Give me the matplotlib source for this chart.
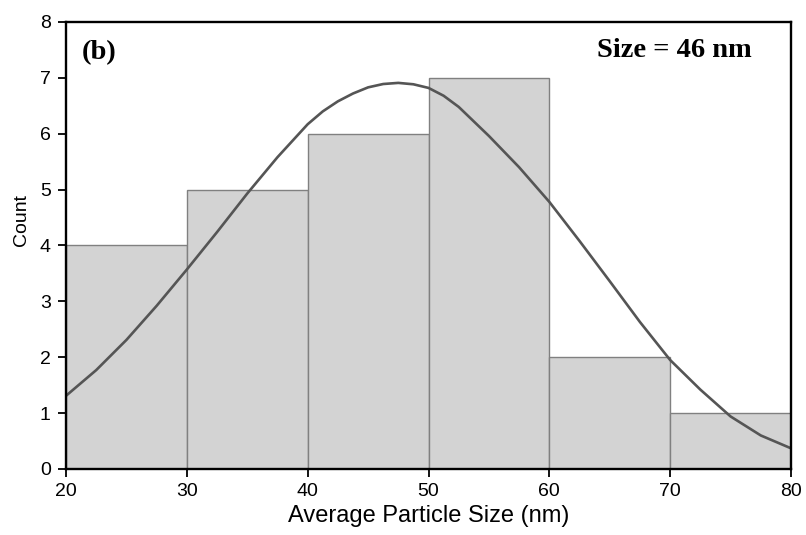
import matplotlib
matplotlib.use('Agg')
import matplotlib.pyplot as plt

# histogram bins (nm) and counts
bin_edges = [20, 30, 40, 50, 60, 70, 80]
counts = [4, 5, 6, 7, 2, 1]

# fitted distribution curve
curve_x = [20, 22.5, 25, 27.5, 30, 32.5, 35, 37.5, 40, 41.25, 42.5, 43.75, 45,
           46.25, 47.5, 48.75, 50, 51.25, 52.5, 55, 57.5, 60, 62.5, 65, 67.5,
           70, 72.5, 75, 77.5, 80]
curve_y = [1.31, 1.77, 2.31, 2.92, 3.57, 4.24, 4.93, 5.58, 6.17, 6.40, 6.58, 6.72, 6.83,
           6.89, 6.91, 6.885, 6.82, 6.68, 6.48, 5.96, 5.40, 4.78, 4.08, 3.36, 2.63,
           1.95, 1.42, 0.94, 0.60, 0.37]

plt.rcParams['font.family'] = ['Liberation Sans', 'DejaVu Sans']

fig = plt.figure(figsize=(8.06, 5.35), dpi=100)
ax = fig.add_axes([0.0819, 0.1234, 0.8995, 0.8355])

widths = [bin_edges[i + 1] - bin_edges[i] for i in range(len(counts))]
ax.bar(bin_edges[:-1], counts, width=widths, align='edge',
       color='#d3d3d3', edgecolor='#808080', linewidth=1.0, zorder=2)
ax.plot(curve_x, curve_y, color='#555555', lw=1.9, zorder=3,
        solid_joinstyle='round', solid_capstyle='round')

ax.set_xlim(20, 80)
ax.set_ylim(0, 8)
ax.set_xticks(range(20, 81, 10))
ax.set_yticks(range(0, 9))
ax.tick_params(direction='out', length=6, width=1.3, labelsize=14)
ax.tick_params(axis='x', pad=4)
ax.tick_params(axis='y', pad=5)
for s in ax.spines.values():
    s.set_linewidth(1.7)
    s.set_zorder(4)

ax.set_xlabel('Average Particle Size (nm)', fontsize=17, labelpad=4)
ax.set_ylabel('Count', fontsize=14, labelpad=6)
ax.yaxis.set_label_coords(-0.05, 0.557)

ax.text(0.022, 0.932, '(b)', transform=ax.transAxes, fontsize=20.5,
        fontweight='bold', family='Liberation Serif', va='center', ha='left')
ax.text(0.946, 0.936, 'Size = 46 nm', transform=ax.transAxes, fontsize=20.5,
        fontweight='bold', family='Liberation Serif', va='center', ha='right')

fig.savefig('out.png', dpi=100)
